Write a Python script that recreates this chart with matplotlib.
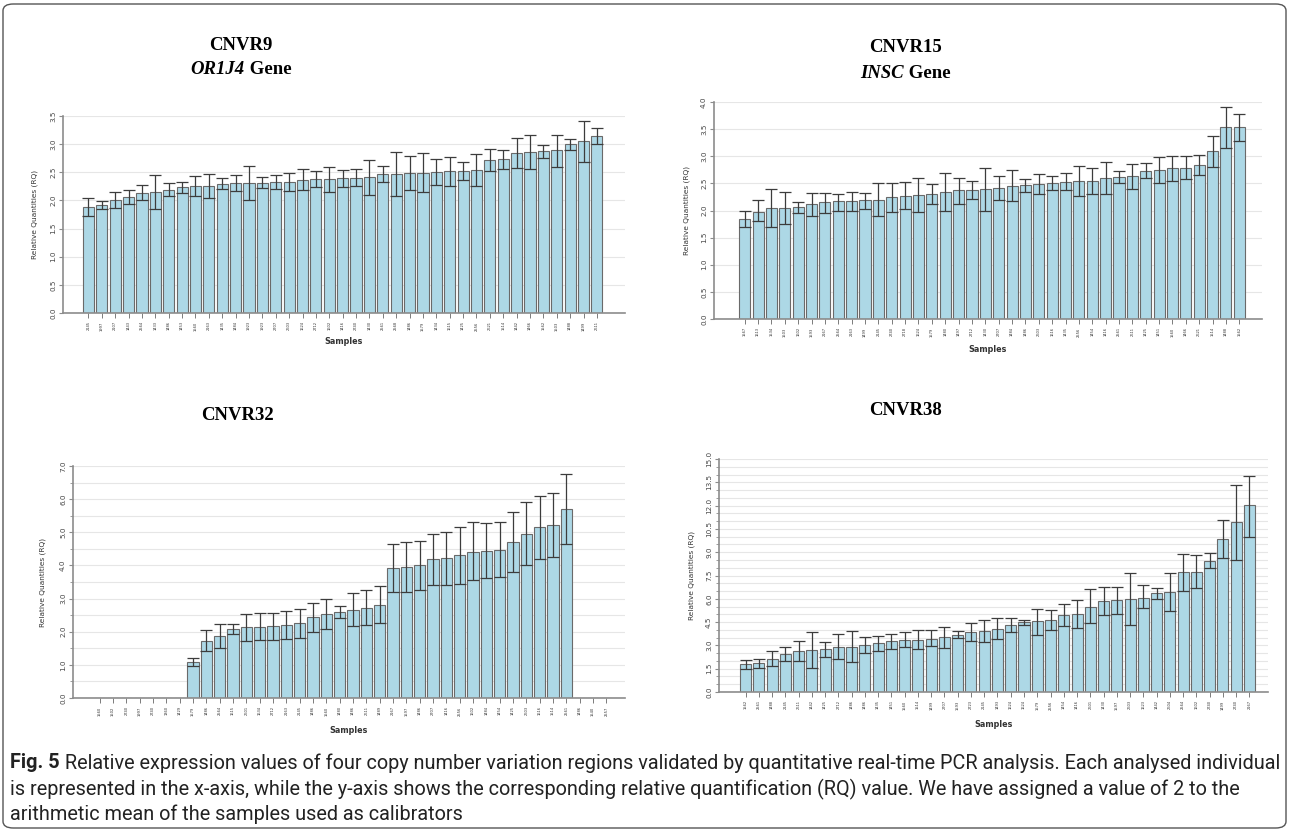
import matplotlib
matplotlib.use('Agg')
import matplotlib.pyplot as plt
import numpy as np
from matplotlib import font_manager
from matplotlib.patches import FancyBboxPatch
from matplotlib.ticker import MultipleLocator, FormatStrFormatter

# ---- CNVR9 / OR1J4 ----
cnvr9_samples = ['2145', '1997', '2107', '1443', '2564', '1433', '1486', '1453', '1560', '2163',
                 '1435', '1484', '1923', '1923', '2707', '2603', '1624', '2712', '1602', '1416',
                 '2740', '1430', '2561', '2568', '1486', '1579', '1434', '1615', '1425', '2556',
                 '2621', '1514', '1442', '1466', '1562', '1503', '1488', '1499', '2611']
cnvr9_rq = [1.88, 1.91, 2.01, 2.06, 2.13, 2.15, 2.18, 2.23, 2.26, 2.26,
            2.30, 2.31, 2.31, 2.31, 2.33, 2.33, 2.37, 2.38, 2.38, 2.39,
            2.40, 2.41, 2.47, 2.47, 2.48, 2.49, 2.51, 2.52, 2.52, 2.54,
            2.72, 2.73, 2.84, 2.86, 2.87, 2.89, 3.00, 3.05, 3.15]
cnvr9_low = [1.73, 1.84, 1.87, 1.93, 2.00, 1.84, 2.07, 2.14, 2.07, 2.04,
             2.21, 2.17, 2.00, 2.22, 2.20, 2.17, 2.18, 2.23, 2.15, 2.24,
             2.26, 2.10, 2.32, 2.08, 2.18, 2.15, 2.28, 2.26, 2.36, 2.26,
             2.53, 2.55, 2.57, 2.55, 2.76, 2.60, 2.90, 2.68, 3.01]
cnvr9_high = [2.05, 1.99, 2.15, 2.18, 2.27, 2.45, 2.31, 2.32, 2.44, 2.47,
              2.39, 2.45, 2.62, 2.41, 2.46, 2.49, 2.55, 2.52, 2.60, 2.54,
              2.55, 2.72, 2.62, 2.86, 2.79, 2.84, 2.74, 2.78, 2.68, 2.82,
              2.91, 2.90, 3.11, 3.17, 2.98, 3.17, 3.10, 3.42, 3.29]

# ---- CNVR15 / INSC ----
cnvr15_samples = ['1567', '1613', '1534', '1503', '1602', '1593', '2167', '2564', '2163', '1499',
                  '2145', '2740', '2718', '1624', '1579', '1480', '1497', '2712', '1430', '2707',
                  '1484', '1486', '2603', '1616', '1435', '2556', '1454', '1416', '2561', '2611',
                  '1425', '1451', '1560', '1466', '2621', '1514', '1488', '1562']
cnvr15_rq = [1.85, 1.98, 2.05, 2.05, 2.06, 2.12, 2.15, 2.17, 2.18, 2.19,
             2.19, 2.24, 2.27, 2.28, 2.30, 2.35, 2.37, 2.38, 2.39, 2.42,
             2.45, 2.47, 2.48, 2.50, 2.53, 2.55, 2.55, 2.60, 2.61, 2.63,
             2.73, 2.74, 2.78, 2.79, 2.84, 3.09, 3.53, 3.53]
cnvr15_low = [1.70, 1.80, 1.70, 1.75, 1.95, 1.90, 1.95, 2.00, 2.00, 2.02,
              1.90, 1.98, 2.02, 1.98, 2.12, 2.00, 2.12, 2.22, 2.00, 2.20,
              2.18, 2.35, 2.30, 2.37, 2.38, 2.27, 2.30, 2.30, 2.50, 2.40,
              2.60, 2.50, 2.55, 2.58, 2.65, 2.80, 3.15, 3.28]
cnvr15_high = [2.00, 2.20, 2.40, 2.35, 2.15, 2.32, 2.32, 2.30, 2.35, 2.33,
               2.50, 2.50, 2.52, 2.60, 2.48, 2.70, 2.60, 2.55, 2.78, 2.63,
               2.75, 2.58, 2.67, 2.63, 2.70, 2.82, 2.78, 2.90, 2.72, 2.85,
               2.88, 2.98, 3.00, 3.00, 3.03, 3.38, 3.90, 3.78]

# ---- CNVR32 ----
cnvr32_samples = ['1560', '1502', '2740', '1997', '2740', '1360', '1429',
                  '1579', '1486', '2564', '1615', '2601', '1634', '2712', '2163', '2145', '1486',
                  '1560', '1480', '1486', '2611', '1489', '2167', '1597', '1486', '2707', '1416',
                  '2556', '1602', '1484', '1454', '1425', '2603', '1616', '1514', '2561',
                  '1486', '1540', '2557']
cnvr32_rq = [0, 0, 0, 0, 0, 0, 0,
             1.08, 1.72, 1.86, 2.08, 2.13, 2.15, 2.16, 2.19, 2.25, 2.43,
             2.53, 2.60, 2.66, 2.72, 2.82, 3.92, 3.95, 4.00, 4.18, 4.22,
             4.30, 4.42, 4.45, 4.48, 4.70, 4.95, 5.15, 5.22, 5.70,
             0, 0, 0]
cnvr32_low = [0, 0, 0, 0, 0, 0, 0,
              0.97, 1.42, 1.51, 1.94, 1.73, 1.75, 1.76, 1.77, 1.81, 2.00,
              2.07, 2.41, 2.17, 2.20, 2.27, 3.20, 3.20, 3.25, 3.40, 3.42,
              3.45, 3.55, 3.62, 3.65, 3.80, 4.00, 4.20, 4.25, 4.65,
              0, 0, 0]
cnvr32_high = [0, 0, 0, 0, 0, 0, 0,
               1.20, 2.04, 2.22, 2.22, 2.52, 2.55, 2.56, 2.61, 2.69, 2.88,
               3.00, 2.79, 3.16, 3.25, 3.37, 4.65, 4.70, 4.75, 4.95, 5.02,
               5.15, 5.30, 5.28, 5.30, 5.60, 5.90, 6.10, 6.20, 6.75,
               0, 0, 0]

# ---- CNVR38 ----
cnvr38_samples = ['1562', '2561', '1488', '2145', '2611', '1442', '1425', '2712', '1486', '1486',
                  '1435', '1451', '1560', '1514', '1499', '2707', '1593', '2723', '2145', '1493',
                  '1624', '1624', '1579', '2556', '1454', '1416', '2601', '1430', '1597', '2603',
                  '1623', '1442', '2604', '2564', '1602', '2740', '1499', '2740', '2167']
cnvr38_rq = [1.80, 1.87, 2.12, 2.45, 2.64, 2.70, 2.75, 2.92, 2.92, 3.03,
             3.15, 3.26, 3.37, 3.37, 3.43, 3.52, 3.67, 3.86, 3.91, 4.08,
             4.31, 4.48, 4.55, 4.62, 4.95, 5.00, 5.50, 5.85, 5.90, 6.00,
             6.05, 6.35, 6.45, 7.70, 7.75, 8.45, 9.85, 10.95, 12.05]
cnvr38_low = [1.48, 1.57, 1.65, 2.02, 2.00, 1.55, 2.25, 2.12, 1.93, 2.51,
              2.66, 2.77, 2.90, 2.79, 2.94, 2.81, 3.45, 3.30, 3.20, 3.41,
              3.85, 4.30, 3.70, 4.00, 4.25, 4.15, 4.45, 4.95, 5.00, 4.30,
              5.40, 6.00, 5.20, 6.50, 6.70, 8.00, 8.60, 8.50, 10.00]
cnvr38_high = [2.08, 2.12, 2.62, 2.88, 3.26, 3.84, 3.22, 3.71, 3.93, 3.52,
               3.63, 3.73, 3.86, 3.97, 3.97, 4.20, 3.91, 4.42, 4.64, 4.74,
               4.75, 4.62, 5.35, 5.25, 5.65, 5.90, 6.60, 6.75, 6.75, 7.65,
               6.90, 6.70, 7.65, 8.90, 8.80, 8.95, 11.05, 13.35, 13.90]

BAR_FILL = '#add8e6'
BAR_EDGE = '#6a6a6a'
ERR_COL = '#3c3c3c'
AXIS_COL = '#8c8c8c'
GRID_COL = '#e6e6e6'

W, H = 1290, 831
fig = plt.figure(figsize=(W / 100, H / 100), dpi=100)


def fig_axes(left, right, bottom, top):
    # pixel box -> figure fraction
    return fig.add_axes([left / W, 1 - bottom / H, (right - left) / W, (bottom - top) / H])


def draw_panel(ax, samples, rq, low, high, ymax, major, minor, xlim, ylab_pad):
    x = np.arange(len(samples))
    rq = np.array(rq, float)
    low = np.array(low, float)
    high = np.array(high, float)
    ax.bar(x, rq, width=0.83, color=BAR_FILL, edgecolor=BAR_EDGE, linewidth=0.8, zorder=2)
    has = rq > 0
    ax.errorbar(x[has], rq[has], yerr=[rq[has] - low[has], high[has] - rq[has]],
                fmt='none', ecolor=ERR_COL, elinewidth=0.9, capsize=4.6, capthick=0.9, zorder=3)
    ax.set_xlim(*xlim)
    ax.set_ylim(0, ymax)
    ax.yaxis.set_major_locator(MultipleLocator(major))
    ax.yaxis.set_minor_locator(MultipleLocator(minor))
    ax.yaxis.set_major_formatter(FormatStrFormatter('%.1f'))
    ax.grid(axis='y', which='both', color=GRID_COL, linewidth=0.8, zorder=0)
    ax.set_axisbelow(True)
    for s in ('top', 'right'):
        ax.spines[s].set_visible(False)
    for s in ('left', 'bottom'):
        ax.spines[s].set_color(AXIS_COL)
        ax.spines[s].set_linewidth(1.2)
    ax.set_xticks(x)
    ax.set_xticklabels(samples, rotation=90, fontsize=2.6, color='#333333')
    ax.tick_params(axis='x', length=3.5, width=0.6, color='#666666', pad=2.5)
    ax.tick_params(axis='y', which='major', length=3, width=0.8, color=AXIS_COL,
                   labelsize=5.2, labelcolor='#444444', pad=2)
    ax.tick_params(axis='y', which='minor', length=2, width=0.6, color=AXIS_COL)
    for t in ax.get_yticklabels():
        t.set_rotation(90)
        t.set_va('center')
    ax.set_xlabel('Samples', fontsize=5.8, color='#333333', fontweight='bold')
    ax.xaxis.set_label_coords(0.5, -0.12)
    ax.set_ylabel('Relative Quantities (RQ)', fontsize=5.3, color='#333333', labelpad=ylab_pad)


ax1 = fig_axes(63, 625, 313, 116)
draw_panel(ax1, cnvr9_samples, cnvr9_rq, cnvr9_low, cnvr9_high, 3.5, 0.5, 0.5, (-1.9, 40.1), 9)

ax2 = fig_axes(714, 1262, 319, 102)
draw_panel(ax2, cnvr15_samples, cnvr15_rq, cnvr15_low, cnvr15_high, 4.0, 0.5, 0.5, (-2.3, 38.7), 8)

ax3 = fig_axes(73, 625, 698, 466)
draw_panel(ax3, cnvr32_samples, cnvr32_rq, cnvr32_low, cnvr32_high, 7.0, 1.0, 0.5, (-2.0, 39.4), 10)

ax4 = fig_axes(719, 1268, 692, 459)
draw_panel(ax4, cnvr38_samples, cnvr38_rq, cnvr38_low, cnvr38_high, 15.0, 1.5, 0.5, (-2.0, 39.4), 8)

# ---- panel titles ----
serif = ['Liberation Serif', 'DejaVu Serif']
tsize = 13.5
fig.text(241 / W, 1 - 45 / H, 'CNVR9', family=serif, fontsize=tsize, fontweight='bold',
         ha='center', va='center')
fig.text(905 / W, 1 - 48 / H, 'CNVR15', family=serif, fontsize=tsize, fontweight='bold',
         ha='center', va='center')
fig.text(237 / W, 1 - 415 / H, 'CNVR32', family=serif, fontsize=tsize, fontweight='bold',
         ha='center', va='center')
fig.text(905 / W, 1 - 410 / H, 'CNVR38', family=serif, fontsize=tsize, fontweight='bold',
         ha='center', va='center')

renderer = fig.canvas.get_renderer()


def gene_title(cx, cy, gene):
    a = fig.text(0, 1 - cy / H, gene, family=serif, fontsize=tsize, fontweight='bold',
                 fontstyle='italic', ha='left', va='center')
    b = fig.text(0, 1 - cy / H, ' Gene', family=serif, fontsize=tsize, fontweight='bold',
                 ha='left', va='center')
    wa = a.get_window_extent(renderer).width
    wb = b.get_window_extent(renderer).width
    x0 = cx - (wa + wb) / 2
    a.set_x(x0 / W)
    b.set_x((x0 + wa) / W)


gene_title(241, 70, 'OR1J4')
gene_title(905, 73, 'INSC')

# ---- caption ----
cap_font = 'DejaVu Sans'
for name in ['Liberation Sans Narrow', 'Roboto', 'Open Sans', 'Noto Sans']:
    try:
        font_manager.findfont(name, fallback_to_default=False)
        cap_font = name
        break
    except Exception:
        pass

cap_lines = ['Relative expression values of four copy number variation regions validated by '
             'quantitative real-time PCR analysis. Each analysed individual',
             'is represented in the x-axis, while the y-axis shows the corresponding relative '
             'quantification (RQ) value. We have assigned a value of 2 to the',
             'arithmetic mean of the samples used as calibrators']
cap_y = [763, 789, 814]
cap_col = '#222222'

fs = 12
lab = fig.text(10 / W, 1 - cap_y[0] / H, 'Fig. 5', family=cap_font, fontsize=fs,
               fontweight='bold', color=cap_col, ha='left', va='center')
first = fig.text(0, 1 - cap_y[0] / H, ' ' + cap_lines[0], family=cap_font, fontsize=fs,
                 color=cap_col, ha='left', va='center')
total = lab.get_window_extent(renderer).width + first.get_window_extent(renderer).width
fs = fs * (1265 / total)
lab.set_fontsize(fs)
first.set_fontsize(fs)
first.set_x((10 + lab.get_window_extent(renderer).width) / W)
for line, yy in zip(cap_lines[1:], cap_y[1:]):
    fig.text(10 / W, 1 - yy / H, line, family=cap_font, fontsize=fs, color=cap_col,
             ha='left', va='center')

# rounded frame around the figure
frame = FancyBboxPatch((3 / W, 3 / H), (W - 7) / W, (H - 7) / H,
                       boxstyle='round,pad=0,rounding_size=0.008', transform=fig.transFigure,
                       fill=False, edgecolor='#555555', linewidth=1.0)
fig.patches.append(frame)

fig.savefig('out.png', dpi=100)
